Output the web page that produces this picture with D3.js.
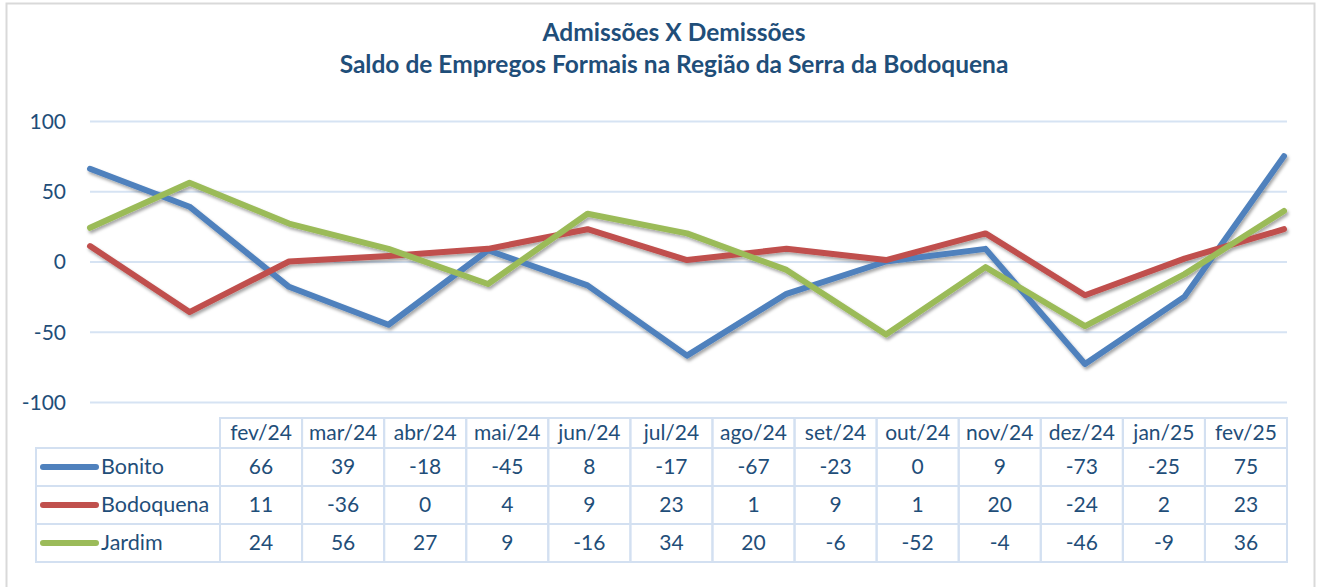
<!DOCTYPE html>
<html>
<head>
<meta charset="utf-8">
<script src="https://cdn.jsdelivr.net/npm/d3@7"></script>
<style>
  body { margin: 0; background: #fff; }
  svg text { font-family: Lato, "Open Sans", sans-serif; fill: #1F4E79; }
</style>
</head>
<body>
<svg class="line-chart" width="1320" height="587"></svg>
<script>
// chart data
const months = ['fev/24', 'mar/24', 'abr/24', 'mai/24', 'jun/24', 'jul/24', 'ago/24', 'set/24', 'out/24', 'nov/24', 'dez/24', 'jan/25', 'fev/25'];
const bonito = [66, 39, -18, -45, 8, -17, -67, -23, 0, 9, -73, -25, 75];
const bodoquena = [11, -36, 0, 4, 9, 23, 1, 9, 1, 20, -24, 2, 23];
const jardim = [24, 56, 27, 9, -16, 34, 20, -6, -52, -4, -46, -9, 36];
const yTicks = [100, 50, 0, -50, -100];

const series = [
    { name: 'Bonito', values: bonito, color: '#4F81BD' },
    { name: 'Bodoquena', values: bodoquena, color: '#C0504D' },
    { name: 'Jardim', values: jardim, color: '#9BBB59' }
];

const svg = d3.select('.line-chart');

// outer frame
svg.append('rect')
    .attr('x', 6.5).attr('y', 3.5)
    .attr('width', 1308).attr('height', 600)
    .attr('fill', '#fff')
    .attr('stroke', '#D9D9D9')
    .attr('stroke-width', 2);

// title
svg.append('text')
    .attr('x', 674).attr('y', 41)
    .attr('text-anchor', 'middle')
    .style('font-weight', 'bold').style('font-size', '24.5px')
    .text('Admissões X Demissões');
svg.append('text')
    .attr('x', 674).attr('y', 73)
    .attr('text-anchor', 'middle')
    .style('font-weight', 'bold').style('font-size', '24.5px')
    .text('Saldo de Empregos Formais na Região da Serra da Bodoquena');

// scales
const plotLeft = 90, plotRight = 1287;
const xScale = d3.scalePoint()
    .domain(months)
    .range([plotLeft, 1284]);

const yScale = d3.scaleLinear()
    .domain([-100, 100])
    .range([402, 121]);

// gridlines + y labels
const yAxis = svg.append('g')
    .call(d3.axisLeft(yScale).tickValues(yTicks).tickFormat(d => String(d)).tickSize(0).tickPadding(0));
yAxis.select('.domain').remove();
yAxis.selectAll('.tick line')
    .attr('x1', plotLeft).attr('x2', plotRight)
    .attr('stroke', '#D6E3F3').attr('stroke-width', 2);
yAxis.selectAll('.tick text')
    .attr('x', 66)
    .attr('dy', '0.35em')
    .style('font-size', '21px')
    .attr('fill', '#1F4E79');

// drop shadow for the lines
const defs = svg.append('defs');
const filter = defs.append('filter').attr('id', 'shadow')
    .attr('x', '-5%').attr('y', '-20%').attr('width', '110%').attr('height', '140%');
filter.append('feDropShadow')
    .attr('dx', 1.5).attr('dy', 2.5).attr('stdDeviation', 1.8)
    .attr('flood-color', '#000').attr('flood-opacity', 0.35);

const line = d3.line()
    .x((d, i) => xScale(months[i]))
    .y(d => yScale(d));

svg.append('g').attr('filter', 'url(#shadow)')
    .selectAll('path')
    .data(series)
    .join('path')
    .attr('fill', 'none')
    .attr('stroke', d => d.color)
    .attr('stroke-width', 6)
    .attr('stroke-linejoin', 'round')
    .attr('stroke-linecap', 'round')
    .attr('d', d => line(d.values));

// data table
const tableLeft = 36, colStart = 220, tableRight = 1287;
const headerTop = 418, headerBottom = 448, rowH = 38;
const colX = d3.scaleBand()
    .domain(months)
    .range([colStart, tableRight]);

const table = svg.append('g');
const borderColor = '#D3E0F1';

// header cells
table.selectAll('.hdr')
    .data(months)
    .join('rect')
    .attr('x', d => colX(d)).attr('y', headerTop)
    .attr('width', colX.bandwidth()).attr('height', headerBottom - headerTop)
    .attr('fill', 'none').attr('stroke', borderColor).attr('stroke-width', 2);
table.selectAll('.hdrText')
    .data(months)
    .join('text')
    .attr('x', d => colX(d) + colX.bandwidth() / 2)
    .attr('y', headerTop + 22)
    .attr('text-anchor', 'middle')
    .style('font-size', '21px')
    .text(d => d);

// rows
series.forEach((s, r) => {
    const y0 = headerBottom + r * rowH;
    const row = table.append('g');
    row.append('rect')
        .attr('x', tableLeft).attr('y', y0)
        .attr('width', colStart - tableLeft).attr('height', rowH)
        .attr('fill', 'none').attr('stroke', borderColor).attr('stroke-width', 2);
    row.append('line')
        .attr('x1', 43).attr('x2', 96)
        .attr('y1', y0 + rowH / 2).attr('y2', y0 + rowH / 2)
        .attr('stroke', s.color).attr('stroke-width', 6)
        .attr('stroke-linecap', 'round');
    row.append('text')
        .attr('x', 101).attr('y', y0 + 26)
        .style('font-size', '21.5px')
        .text(s.name);
    row.selectAll('rect.cell')
        .data(months)
        .join('rect')
        .attr('class', 'cell')
        .attr('x', d => colX(d)).attr('y', y0)
        .attr('width', colX.bandwidth()).attr('height', rowH)
        .attr('fill', 'none').attr('stroke', borderColor).attr('stroke-width', 2);
    row.selectAll('text.val')
        .data(s.values)
        .join('text')
        .attr('class', 'val')
        .attr('x', (d, i) => colX(months[i]) + colX.bandwidth() / 2)
        .attr('y', y0 + 26)
        .attr('text-anchor', 'middle')
        .style('font-size', '21px')
        .text(d => d);
});
</script>
</body>
</html>
